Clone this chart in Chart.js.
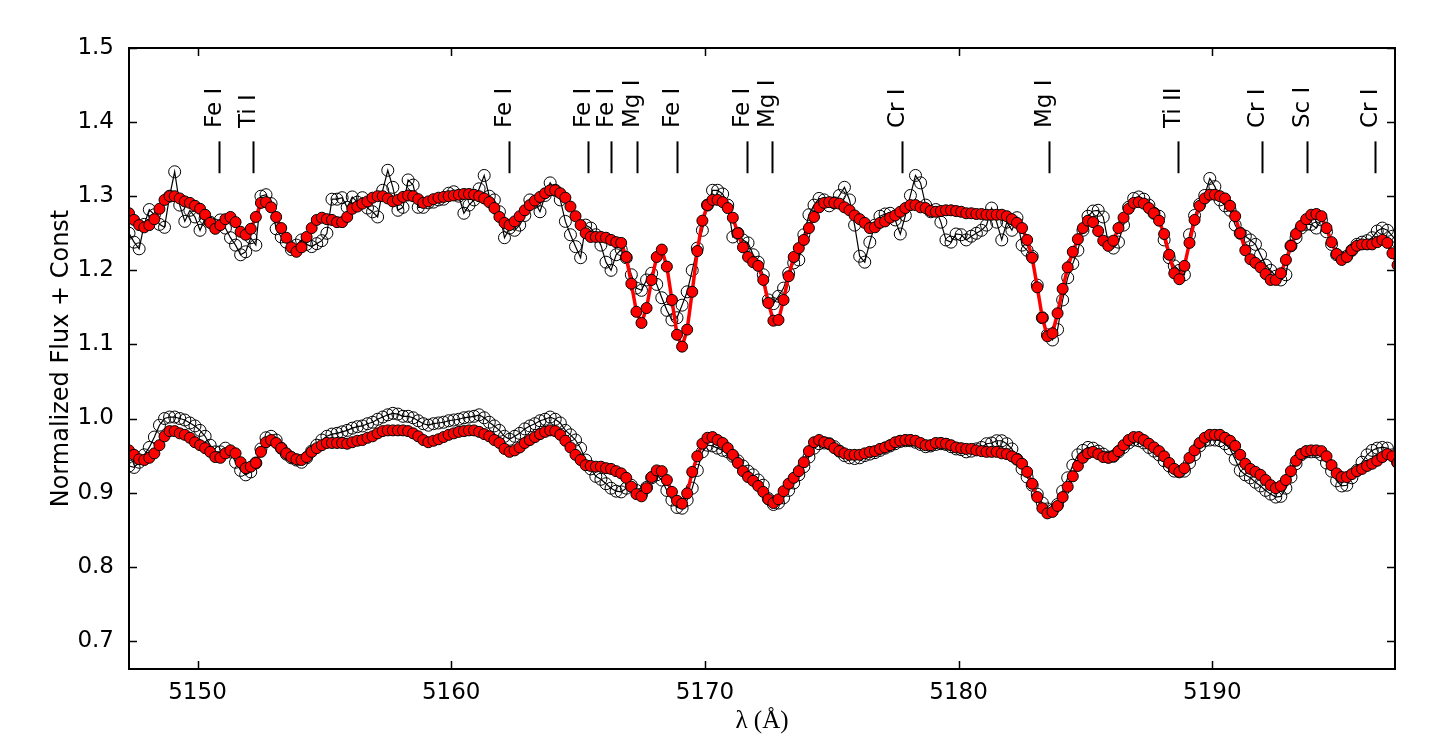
<!DOCTYPE html>
<html>
<head>
<meta charset="utf-8">
<script src="https://cdn.jsdelivr.net/npm/chart.js@4.4.0/dist/chart.umd.min.js"></script>
<style>
  html, body { margin: 0; padding: 0; background: #fff; }
  #wrap { width: 1452px; height: 756px; position: relative; }
</style>
</head>
<body>
<div id="wrap"><canvas id="myChart"></canvas></div>
<script>
// wavelength grid of the spectra (Angstrom)
const lamStart = 5147.3, lamStep = 0.2;

// upper spectrum: observed (open black) and model (red)
const topObs = [
  1.250,1.238,1.229,1.262,1.282,1.275,1.262,1.258,1.300,1.333,1.288,1.266,1.281,1.272,1.254,1.270,1.265,1.261,1.268,1.257,
  1.244,1.234,1.221,1.225,1.244,1.234,1.300,1.302,1.290,1.256,1.245,1.238,1.228,1.234,1.241,1.235,1.232,1.236,1.240,1.250,
  1.296,1.296,1.298,1.285,1.299,
  1.292,1.298,1.284,1.279,1.272,1.308,1.335,1.312,1.281,1.285,1.322,1.315,1.285,1.285,1.291,1.292,1.295,1.296,1.304,1.306,
  1.300,1.277,1.288,1.295,1.310,1.328,1.300,1.295,1.279,1.244,1.257,1.254,1.261,1.274,1.295,1.292,1.279,1.301,1.318,1.308,
  1.295,1.266,1.248,1.232,1.217,
  1.261,1.257,1.248,1.234,1.211,1.200,1.221,1.228,1.217,1.194,1.176,1.173,1.187,1.196,1.181,1.163,1.146,1.133,1.136,1.153,
  1.171,1.200,1.230,1.254,1.288,1.308,1.308,1.303,1.288,1.245,1.250,1.241,1.237,1.221,1.211,1.194,1.160,1.155,1.165,1.176,
  1.196,1.210,1.214,1.248,1.275,1.288,1.297,1.295,1.287,1.291,1.301,1.312,1.295,1.261,1.219,1.211,1.238,1.261,1.273,1.276,
  1.277,1.268,1.249,1.274,1.301,1.328,1.318,1.288,1.279,1.282,1.265,1.241,1.238,1.249,1.248,1.241,1.246,1.250,1.254,1.261,
  1.284,1.265,1.241,1.265,
  1.254,1.271,1.234,1.227,1.219,1.180,1.136,1.113,1.106,1.120,1.160,1.190,1.209,1.227,1.254,1.273,1.280,1.281,1.272,1.237,
  1.230,1.238,1.261,1.285,1.297,1.299,1.296,1.288,1.277,1.273,1.241,1.217,1.206,1.200,1.194,1.248,1.274,1.289,1.301,1.324,
  1.313,1.295,1.287,1.281,1.261,1.250,1.246,1.241,1.235,1.221,1.207,1.200,1.192,1.187,1.194,1.233,1.244,1.257,1.262,1.262,
  1.257,1.268,1.252,1.235,1.221,1.217,1.219,1.227,1.235,1.238,1.240,1.244,1.253,1.257,1.254,1.246,1.238
];
const topFit = [
  1.277,1.268,1.261,1.258,1.261,1.269,1.283,1.295,1.300,1.300,1.297,1.293,1.291,1.287,1.283,1.275,1.264,1.256,1.261,1.269,
  1.272,1.265,1.252,1.248,1.256,1.272,1.291,1.292,1.285,1.272,1.257,1.244,1.231,1.225,1.231,1.245,1.257,1.268,1.271,1.269,
  1.268,1.265,1.265,1.272,1.283,
  1.286,1.290,1.293,1.298,1.300,1.300,1.297,1.293,1.295,1.299,1.301,1.300,1.296,1.291,1.293,1.296,1.298,1.299,1.300,1.301,
  1.302,1.303,1.303,1.302,1.300,1.297,1.292,1.284,1.272,1.264,1.261,1.266,1.273,1.281,1.288,1.294,1.299,1.304,1.308,1.308,
  1.304,1.298,1.286,1.273,1.261,
  1.250,1.245,1.245,1.245,1.244,1.241,1.238,1.237,1.218,1.182,1.144,1.129,1.149,1.187,1.218,1.228,1.205,1.160,1.113,1.097,
  1.120,1.171,1.226,1.267,1.288,1.295,1.295,1.292,1.284,1.271,1.250,1.231,1.218,1.211,1.206,1.187,1.156,1.132,1.133,1.160,
  1.192,1.218,1.230,1.241,1.257,1.272,1.285,1.291,1.292,1.291,1.290,1.285,1.281,1.274,1.269,1.264,1.257,1.258,1.264,1.266,
  1.271,1.274,1.279,1.284,1.288,1.288,1.285,1.284,1.280,1.279,1.280,1.281,1.281,1.280,1.279,
  1.277,1.277,1.276,1.276,1.275,1.275,1.275,1.275,1.273,1.269,1.264,1.257,1.241,1.217,1.177,1.136,1.111,1.115,1.142,1.175,
  1.204,1.225,1.242,1.257,1.267,1.265,1.253,1.240,1.233,1.240,1.257,1.271,1.283,1.291,1.292,1.290,1.284,1.277,1.267,1.249,
  1.221,1.196,1.188,1.206,1.237,1.268,1.287,1.297,1.302,1.302,1.300,1.297,1.287,1.273,1.250,1.227,1.215,1.210,1.204,1.195,
  1.187,1.187,1.196,1.214,1.233,1.249,1.260,1.269,1.275,1.276,1.273,1.257,1.238,1.222,1.214,1.218,1.227,1.233,1.235,1.235,
  1.235,1.238,1.241,1.237,1.223,1.207
];

// lower spectrum: observed (open black) and model (red)
const botObs = [
  0.936,0.934,0.941,0.951,0.961,0.975,0.991,1.000,1.002,1.002,1.000,0.998,0.994,0.990,0.984,0.976,0.964,0.955,0.955,0.960,
  0.955,0.941,0.930,0.924,0.928,0.940,0.959,0.974,0.976,0.971,0.960,0.952,0.947,0.944,0.941,0.947,0.956,0.964,0.971,0.976,
  0.979,0.980,0.982,0.984,0.987,
  0.989,0.990,0.993,0.995,0.999,1.002,1.005,1.007,1.006,1.003,1.003,1.001,0.997,0.993,0.991,0.993,0.994,0.995,0.997,0.998,
  0.999,1.001,1.002,1.003,1.005,1.001,0.995,0.990,0.984,0.976,0.972,0.976,0.980,0.986,0.990,0.993,0.997,0.999,1.002,0.999,
  0.994,0.984,0.978,0.971,0.960,
  0.944,0.932,0.922,0.918,0.912,0.906,0.902,0.901,0.906,0.910,0.903,0.898,0.907,0.920,0.924,0.917,0.903,0.890,0.880,0.879,
  0.890,0.906,0.930,0.955,0.964,0.963,0.960,0.957,0.955,0.949,0.943,0.936,0.929,0.924,0.917,0.910,0.892,0.884,0.886,0.893,
  0.903,0.913,0.924,0.935,0.948,0.960,0.966,0.967,0.966,0.962,0.956,0.950,0.947,0.946,0.947,0.950,0.952,0.954,0.957,0.960,
  0.963,0.966,0.969,0.970,0.970,0.968,0.965,0.962,0.963,0.965,0.966,0.965,0.962,0.959,0.958,
  0.955,0.956,0.959,0.961,0.966,0.967,0.970,0.970,0.966,0.959,0.945,0.932,0.921,0.910,0.898,0.886,0.878,0.876,0.884,0.902,
  0.920,0.937,0.951,0.957,0.961,0.960,0.956,0.952,0.948,0.949,0.955,0.961,0.967,0.971,0.970,0.967,0.961,0.956,0.951,0.943,
  0.936,0.929,0.928,0.929,0.940,0.951,0.963,0.970,0.971,0.971,0.970,0.966,0.959,0.945,0.930,0.924,0.920,0.914,0.909,0.903,
  0.898,0.894,0.895,0.906,0.921,0.939,0.951,0.955,0.955,0.955,0.951,0.940,0.929,0.916,0.909,0.910,0.920,0.930,0.941,0.951,
  0.957,0.960,0.961,0.960,0.951,0.941
];
const botFit = [
  0.957,0.951,0.945,0.944,0.947,0.953,0.964,0.976,0.983,0.983,0.980,0.978,0.974,0.968,0.964,0.960,0.955,0.948,0.947,0.953,
  0.957,0.953,0.941,0.933,0.935,0.940,0.955,0.968,0.971,0.967,0.960,0.953,0.948,0.945,0.944,0.948,0.955,0.960,0.964,0.967,
  0.967,0.967,0.967,0.966,0.968,
  0.970,0.971,0.974,0.976,0.980,0.983,0.984,0.984,0.984,0.984,0.983,0.980,0.976,0.971,0.968,0.970,0.972,0.975,0.978,0.980,
  0.982,0.983,0.984,0.984,0.982,0.979,0.976,0.971,0.967,0.959,0.955,0.957,0.961,0.967,0.971,0.975,0.979,0.982,0.984,0.983,
  0.978,0.970,0.961,0.951,0.944,
  0.937,0.936,0.935,0.935,0.933,0.932,0.929,0.926,0.920,0.908,0.898,0.895,0.906,0.921,0.930,0.929,0.917,0.901,0.889,0.885,
  0.899,0.928,0.949,0.966,0.974,0.975,0.971,0.967,0.960,0.951,0.940,0.929,0.921,0.916,0.909,0.901,0.891,0.886,0.891,0.902,
  0.912,0.920,0.929,0.941,0.956,0.968,0.971,0.968,0.966,0.960,0.956,0.953,0.951,0.951,0.951,0.953,0.955,0.956,0.959,0.961,
  0.964,0.968,0.970,0.971,0.971,0.970,0.967,0.964,0.964,0.967,0.967,0.966,0.964,0.961,0.960,
  0.959,0.959,0.957,0.956,0.955,0.955,0.955,0.953,0.952,0.949,0.945,0.939,0.928,0.912,0.894,0.879,0.872,0.874,0.882,0.894,
  0.908,0.922,0.936,0.947,0.953,0.955,0.952,0.948,0.947,0.949,0.956,0.964,0.971,0.975,0.975,0.971,0.966,0.961,0.956,0.949,
  0.940,0.932,0.928,0.933,0.947,0.957,0.967,0.974,0.978,0.978,0.978,0.974,0.970,0.963,0.951,0.939,0.932,0.928,0.924,0.917,
  0.910,0.906,0.909,0.917,0.929,0.943,0.952,0.956,0.957,0.957,0.956,0.949,0.937,0.926,0.921,0.921,0.925,0.929,0.932,0.936,
  0.939,0.943,0.948,0.952,0.949,0.940
];

// identified lines
const lineWaves = [5150.84, 5152.20, 5162.27, 5165.40, 5166.28, 5167.33, 5168.88, 5171.65, 5172.66,
                   5177.78, 5183.58, 5188.64, 5191.95, 5193.73, 5196.40];
const lineNames = ['Fe I', 'Ti I', 'Fe I', 'Fe I', 'Fe I', 'Mg I', 'Fe I', 'Fe I', 'Mg I',
                   'Cr I', 'Mg I', 'Ti II', 'Cr I', 'Sc I', 'Cr I'];
const markLow = 1.331, markHigh = 1.374, labelBase = 1.392;

const xTicks = [5150, 5160, 5170, 5180, 5190];
const yTicks = [0.7, 0.8, 0.9, 1.0, 1.1, 1.2, 1.3, 1.4, 1.5];

const lam = topFit.map((_v, i) => lamStart + i * lamStep);
const pts = arr => arr.map((v, i) => ({ x: lam[i], y: v }));

const frame = {
  id: 'frame',
  afterDatasetsDraw(chart) {
    const { ctx, chartArea: a, scales: { x, y } } = chart;
    ctx.save();
    ctx.strokeStyle = '#000';
    ctx.fillStyle = '#000';

    // line markers and their names
    ctx.lineWidth = 2;
    ctx.font = '23px "DejaVu Sans"';
    ctx.textAlign = 'left';
    ctx.textBaseline = 'alphabetic';
    lineWaves.forEach((w, i) => {
      const px = Math.round(x.getPixelForValue(w)) + 0.5;
      ctx.beginPath();
      ctx.moveTo(px, y.getPixelForValue(markLow));
      ctx.lineTo(px, y.getPixelForValue(markHigh));
      ctx.stroke();
      ctx.save();
      ctx.translate(px + 1, y.getPixelForValue(labelBase));
      ctx.rotate(-Math.PI / 2);
      ctx.fillText(lineNames[i], 0, 0);
      ctx.restore();
    });

    // axes box
    ctx.lineWidth = 2;
    ctx.strokeRect(a.left, a.top, a.right - a.left, a.bottom - a.top);

    // inward ticks on all four sides
    ctx.lineWidth = 1.5;
    ctx.beginPath();
    xTicks.forEach(v => {
      const p = Math.round(x.getPixelForValue(v)) + 0.5;
      ctx.moveTo(p, a.bottom); ctx.lineTo(p, a.bottom - 8);
      ctx.moveTo(p, a.top); ctx.lineTo(p, a.top + 8);
    });
    yTicks.forEach(v => {
      const p = Math.round(y.getPixelForValue(v)) + 0.5;
      ctx.moveTo(a.left, p); ctx.lineTo(a.left + 8, p);
      ctx.moveTo(a.right, p); ctx.lineTo(a.right - 8, p);
    });
    ctx.stroke();
    ctx.restore();
  }
};

const fitStyle = {
  borderColor: '#ff0000', borderWidth: 3.5, pointRadius: 5.5,
  pointBackgroundColor: '#ff0000', pointBorderColor: '#000', pointBorderWidth: 1
};
const obsStyle = {
  borderColor: '#000', borderWidth: 1.2, pointRadius: 6,
  pointBackgroundColor: 'rgba(0,0,0,0)', pointBorderColor: '#000', pointBorderWidth: 1
};

const tickFont = { family: 'DejaVu Sans', size: 23 };

var myChart = new Chart(document.getElementById('myChart'), {
  type: 'line',
  data: {
    datasets: [
      { label: 'model (upper)', data: pts(topFit), ...fitStyle },
      { label: 'model (lower)', data: pts(botFit), ...fitStyle },
      { label: 'observed (upper)', data: pts(topObs), ...obsStyle },
      { label: 'observed (lower)', data: pts(botObs), ...obsStyle }
    ]
  },
  options: {
    animation: false,
    responsive: true,
    maintainAspectRatio: false,
    devicePixelRatio: 1,
    events: [],
    tension: 0,
    layout: { padding: { left: 0, right: 57, top: 48, bottom: 0 } },
    plugins: { legend: { display: false }, tooltip: { enabled: false } },
    scales: {
      x: {
        type: 'linear',
        min: 5147.3,
        max: 5197.2,
        afterFit: s => { s.height = 87; },
        afterBuildTicks: s => { s.ticks = xTicks.map(v => ({ value: v })); },
        grid: { display: false, drawTicks: false },
        border: { display: false },
        ticks: { font: tickFont, color: '#000', padding: 10, maxRotation: 0, callback: v => String(v) },
        title: {
          display: true, text: 'λ (Å)', color: '#000',
          font: { family: 'Liberation Serif', size: 25 },
          padding: { top: 0, bottom: 20 }
        }
      },
      y: {
        min: 0.662,
        max: 1.5,
        afterFit: s => { s.width = 129; },
        afterBuildTicks: s => { s.ticks = yTicks.map(v => ({ value: v })); },
        grid: { display: false, drawTicks: false },
        border: { display: false },
        ticks: { font: tickFont, color: '#000', padding: 15, callback: v => v.toFixed(1) },
        title: {
          display: true, text: 'Normalized Flux + Const', color: '#000',
          font: { family: 'DejaVu Sans', size: 24 },
          padding: { top: 47, bottom: 0 }
        }
      }
    }
  },
  plugins: [frame]
});
</script>
</body>
</html>
